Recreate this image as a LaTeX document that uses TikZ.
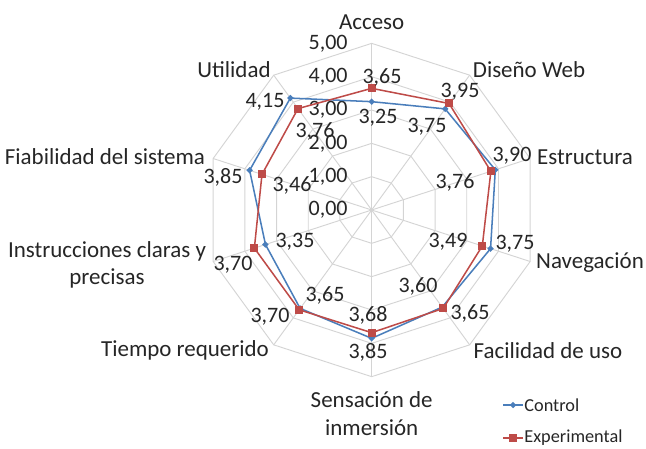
\documentclass[tikz,border=0pt]{standalone}
\usepackage{fontspec}
\setmainfont{Carlito}
\usetikzlibrary{positioning}
\usetikzlibrary{shapes.geometric}

\definecolor{ctrlblue}{HTML}{4A7EBB}
\definecolor{expred}{HTML}{BE4B48}
\definecolor{gridgray}{HTML}{D4D4D4}
\definecolor{txtgray}{HTML}{262626}

\tikzset{
  gridline/.style={gridgray, line width=0.8pt},
  ctrlline/.style={ctrlblue, line width=1.3pt, line join=round},
  expline/.style={expred, line width=1.3pt, line join=round},
  ctrlmark/.style={diamond, fill=ctrlblue, inner sep=0pt, minimum size=0.2cm},
  expmark/.style={rectangle, fill=expred, inner sep=0pt, minimum size=0.24cm},
  lbl/.style={text=txtgray, inner sep=1pt},
  catlbl/.style={lbl, align=center, font=\fontsize{19.6}{23.5}\selectfont},
  leglbl/.style={lbl, font=\fontsize{15.6}{18}\selectfont}
}

\begin{document}
\begin{tikzpicture}[font=\fontsize{18.8}{23}\selectfont]
\useasboundingbox (-11.15,-7.14) rectangle (8.23,6.3);

 % rings
 \foreach \r in {1,...,5} {
   \draw[gridline] (90:\r) \foreach \k in {1,...,9} { -- (90-\k*36:\r) } -- cycle;
 }

 % spokes
 \foreach \k in {0,...,9} {
   \draw[gridline] (0,0) -- (90-\k*36:5);
 }

 % axis values
 \foreach \r in {0,...,5} {
   \node[lbl, anchor=east] (ax\r) at (-0.68,\r) {\r,00};
 }

 % categories
 \foreach \x/\y/\name [count=\i] in {0/5.64/Acceso, 4.72/4.20/Diseño Web, 6.40/1.59/Estructura,
     6.55/-1.59/Navegación, 5.29/-4.23/Facilidad de uso, 0/-6.11/{Sensación de\\inmersión},
     -5.60/-4.20/Tiempo requerido, -7.94/-1.65/{Instrucciones claras y\\precisas},
     -8.00/1.59/Fiabilidad del sistema, -4.13/4.20/Utilidad} {
   \node[catlbl] (cat\i) at (\x,\y) {\name};
 }

 % control
 \draw[ctrlline] (90:3.25) -- (54:3.75) -- (18:3.90) -- (-18:3.75) -- (-54:3.60) -- (-90:3.85)
     -- (-126:3.65) -- (-162:3.35) -- (162:3.85) -- (126:4.15) -- cycle;
 \foreach \a/\v [count=\i] in {90/3.25, 54/3.75, 18/3.90, -18/3.75, -54/3.60, -90/3.85,
     -126/3.65, -162/3.35, 162/3.85, 126/4.15} {
   \node[ctrlmark] (cm\i) at (\a:\v) {};
 }

 % experimental
 \draw[expline] (90:3.65) -- (54:3.95) -- (18:3.76) -- (-18:3.49) -- (-54:3.65) -- (-90:3.68)
     -- (-126:3.70) -- (-162:3.70) -- (162:3.46) -- (126:3.76) -- cycle;
 \foreach \a/\v [count=\i] in {90/3.65, 54/3.95, 18/3.76, -18/3.49, -54/3.65, -90/3.68,
     -126/3.70, -162/3.70, 162/3.46, 126/3.76} {
   \node[expmark] (em\i) at (\a:\v) {};
 }

 % data labels
 \foreach \x/\y/\name [count=\i] in {0.19/2.76/{3,25}, 1.66/2.49/{3,75}, 4.21/1.62/{3,90},
     4.30/-1.02/{3,75}, 1.39/-2.28/{3,60}, -0.11/-4.26/{3,85}, -1.40/-2.55/{3,65},
     -2.30/-0.96/{3,35}, -4.46/0.99/{3,85}, -3.20/3.24/{4,15}} {
   \node[lbl] (cv\i) at (\x,\y) {\name};
 }
 \foreach \x/\y/\name [count=\i] in {0.31/3.99/{3,65}, 2.65/3.54/{3,95}, 2.50/0.84/{3,76},
     2.29/-0.96/{3,49}, 2.95/-3.09/{3,65}, -0.11/-3.15/{3,68}, -3.05/-3.21/{3,70},
     -4.16/-1.65/{3,70}, -2.39/0.75/{3,46}, -1.70/2.37/{3,76}} {
   \node[lbl] (ev\i) at (\x,\y) {\name};
 }

 % legend
 \coordinate (ctrlA) at (3.94,-5.85);
 \coordinate (ctrlB) at (4.54,-5.85);
 \draw[ctrlline] (ctrlA) -- (ctrlB);
 \node[ctrlmark] (ctrlM) at (4.24,-5.85) {};
 \node[leglbl, right=0pt of ctrlB] (ctrlT) {Control};

 \coordinate (expA) at (3.94,-6.84);
 \coordinate (expB) at (4.54,-6.84);
 \draw[expline] (expA) -- (expB);
 \node[expmark] (expM) at (4.24,-6.84) {};
 \node[leglbl, right=0pt of expB] (expT) {Experimental};

\end{tikzpicture}
\end{document}
